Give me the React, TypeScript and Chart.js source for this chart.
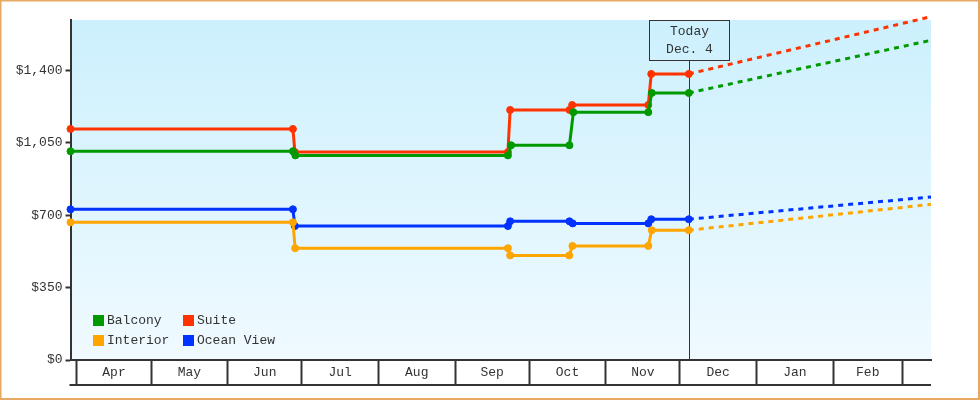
import React, { useEffect, useRef } from "react";
import { Chart, registerables } from "chart.js";

Chart.register(...registerables);

// Days counted from April 1
const monthNames = ["Apr", "May", "Jun", "Jul", "Aug", "Sep", "Oct", "Nov", "Dec", "Jan", "Feb"];
const monthStartDays = [0, 30, 61, 91, 122, 153, 183, 214, 244, 275, 306, 334];
const yTickValues = [0, 350, 700, 1050, 1400];
const yMax = 1645;
const startDay = -2.6;
const endDay = 345.6;
const todayDay = 247.6;
const todayLines = ["Today", "Dec. 4"];

const balconyDays = [-2.6, 87.4, 88.4, 174.4, 175.7, 199.3, 200.9, 231.2, 232.6, 247.6, 345.6];
const balconyPrices = [1010, 1010, 990, 990, 1039, 1039, 1199, 1199, 1292, 1292, 1547];

const suiteDays = [-2.6, 87.4, 88.2, 174.4, 175.3, 199.3, 200.4, 231.2, 232.4, 247.6, 345.6];
const suitePrices = [1118, 1118, 1006, 1006, 1210, 1210, 1234, 1234, 1384, 1384, 1661];

const interiorDays = [-2.6, 87.4, 88.3, 174.4, 175.3, 199.2, 200.5, 231.2, 232.6, 247.6, 345.6];
const interiorPrices = [666, 666, 541, 541, 506, 506, 552, 552, 628, 628, 753];

const oceanDays = [-2.6, 87.4, 88.2, 174.4, 175.3, 199.3, 200.6, 231.2, 232.4, 247.6, 345.6];
const oceanPrices = [729, 729, 648, 648, 671, 671, 661, 661, 681, 681, 789];

const FONT = "'Liberation Mono', 'DejaVu Sans Mono', monospace";
const TEXT = "#333333";

const legendItems = [
  { label: "Balcony", color: "#009900" },
  { label: "Suite", color: "#ff3300" },
  { label: "Interior", color: "#ffa500" },
  { label: "Ocean View", color: "#0033ff" },
];

function makeDataset(label: string, color: string, days: number[], prices: number[]) {
  const n = days.length;
  return {
    label,
    data: days.map((d, i) => ({ x: d, y: prices[i] })),
    borderColor: color,
    backgroundColor: color,
    borderWidth: 3,
    pointRadius: days.map((_, i) => (i === n - 1 ? 0 : 3.5)),
    pointBorderWidth: 1,
    pointHoverRadius: 0,
    pointStyle: "circle",
    tension: 0,
    fill: false,
    clip: false as any,
    segment: {
      borderDash: (ctx: any) => (ctx.p1DataIndex === n - 1 ? [5, 5] : undefined),
    },
  };
}

const bgPlugin = {
  id: "bgGradient",
  beforeDraw(chart: any) {
    const { ctx, chartArea } = chart;
    ctx.save();
    ctx.fillStyle = "#ffffff";
    ctx.fillRect(0, 0, chart.width, chart.height);
    const g = ctx.createLinearGradient(0, chartArea.top, 0, chartArea.bottom);
    g.addColorStop(0, "#ccf0fd");
    g.addColorStop(1, "#f0faff");
    ctx.fillStyle = g;
    ctx.fillRect(chartArea.left, chartArea.top, chartArea.right - chartArea.left, chartArea.bottom - chartArea.top);
    ctx.restore();
  },
};

const todayPlugin = {
  id: "todayLine",
  beforeDatasetsDraw(chart: any) {
    const { ctx, chartArea, scales } = chart;
    const x = Math.round(scales.x.getPixelForValue(todayDay)) + 0.5;
    ctx.save();
    ctx.strokeStyle = TEXT;
    ctx.lineWidth = 1;
    ctx.beginPath();
    ctx.moveTo(x, chartArea.top + 40);
    ctx.lineTo(x, chartArea.bottom);
    ctx.stroke();
    ctx.restore();
  },
  afterDraw(chart: any) {
    const { ctx, chartArea, scales } = chart;
    const x = Math.round(scales.x.getPixelForValue(todayDay)) + 0.5;
    ctx.save();
    ctx.strokeStyle = TEXT;
    ctx.lineWidth = 1;
    ctx.strokeRect(x - 40, chartArea.top + 0.5, 80, 40);
    ctx.fillStyle = TEXT;
    ctx.font = `13px ${FONT}`;
    ctx.textAlign = "center";
    ctx.textBaseline = "middle";
    ctx.fillText(todayLines[0], x, chartArea.top + 12);
    ctx.fillText(todayLines[1], x, chartArea.top + 30);
    ctx.restore();
  },
};

const bandPlugin = {
  id: "monthBand",
  afterDraw(chart: any) {
    const { ctx, chartArea, scales } = chart;
    const xs = scales.x;
    const y0 = chartArea.bottom;
    ctx.save();
    ctx.strokeStyle = TEXT;
    ctx.lineWidth = 2;
    ctx.beginPath();
    ctx.moveTo(chartArea.left - 1, y0 + 25);
    ctx.lineTo(chartArea.right, y0 + 25);
    ctx.stroke();
    ctx.fillStyle = TEXT;
    ctx.font = `13px ${FONT}`;
    ctx.textAlign = "center";
    ctx.textBaseline = "middle";
    monthNames.forEach((m, i) => {
      const a = xs.getPixelForValue(monthStartDays[i]);
      const b = xs.getPixelForValue(monthStartDays[i + 1]);
      ctx.fillText(m, (a + b) / 2, y0 + 13);
    });
    ctx.restore();
  },
};

const legendPlugin = {
  id: "innerLegend",
  afterDraw(chart: any) {
    const { ctx, chartArea } = chart;
    const baseX = chartArea.left + 22.5;
    const baseY = chartArea.bottom - 45;
    ctx.save();
    ctx.font = `13px ${FONT}`;
    ctx.textAlign = "left";
    ctx.textBaseline = "middle";
    legendItems.forEach((it, i) => {
      const col = i % 2;
      const row = Math.floor(i / 2);
      const x = baseX + col * 90;
      const y = baseY + row * 20;
      ctx.fillStyle = it.color;
      ctx.fillRect(x, y, 11, 11);
      ctx.fillStyle = TEXT;
      ctx.fillText(it.label, x + 14, y + 6);
    });
    ctx.restore();
  },
};

const framePlugin = {
  id: "frame",
  afterDraw(chart: any) {
    const { ctx } = chart;
    ctx.save();
    ctx.strokeStyle = "#e6a862";
    ctx.lineWidth = 2;
    ctx.strokeRect(0.5, 0.5, chart.width - 1.5, chart.height - 1.5);
    ctx.restore();
  },
};

export default function App() {
  const ref = useRef<HTMLCanvasElement | null>(null);
  useEffect(() => {
    if (!ref.current) return;
    const chart = new Chart(ref.current, {
      type: "line",
      data: {
        datasets: [
          makeDataset("Interior", "#ffa500", interiorDays, interiorPrices),
          makeDataset("Ocean View", "#0033ff", oceanDays, oceanPrices),
          makeDataset("Balcony", "#009900", balconyDays, balconyPrices),
          makeDataset("Suite", "#ff3300", suiteDays, suitePrices),
        ] as any,
      },
      options: {
        animation: false,
        responsive: false,
        maintainAspectRatio: false,
        devicePixelRatio: 1,
        events: [],
        layout: { padding: { top: 20, right: 49, left: 0, bottom: 0 } },
        plugins: { legend: { display: false }, tooltip: { enabled: false } },
        scales: {
          x: {
            type: "linear",
            min: startDay,
            max: endDay,
            afterBuildTicks: (axis: any) => {
              axis.ticks = monthStartDays.map((v) => ({ value: v }));
            },
            afterFit: (axis: any) => {
              axis.height = 40;
            },
            ticks: { display: false },
            grid: { drawOnChartArea: false, drawTicks: true, tickLength: 25, tickWidth: 2, tickColor: TEXT },
            border: { display: true, color: TEXT, width: 2 },
          },
          y: {
            type: "linear",
            min: 0,
            max: yMax,
            afterBuildTicks: (axis: any) => {
              axis.ticks = yTickValues.map((v) => ({ value: v }));
            },
            afterFit: (axis: any) => {
              axis.width = 70.5;
            },
            ticks: {
              padding: 3,
              color: TEXT,
              font: { family: FONT, size: 13 },
              callback: (v: any) => "$" + Number(v).toLocaleString("en-US"),
            },
            grid: { drawOnChartArea: false, drawTicks: true, tickLength: 5, tickWidth: 2, tickColor: TEXT },
            border: { display: true, color: TEXT, width: 2 },
          },
        },
      } as any,
      plugins: [bgPlugin, todayPlugin, bandPlugin, legendPlugin, framePlugin],
    });
    return () => chart.destroy();
  }, []);
  return (
    <div style={{ position: "fixed", left: 0, top: 0, width: 980, height: 400 }}>
      <canvas ref={ref} width={980} height={400} style={{ width: 980, height: 400, display: "block" }} />
    </div>
  );
}
